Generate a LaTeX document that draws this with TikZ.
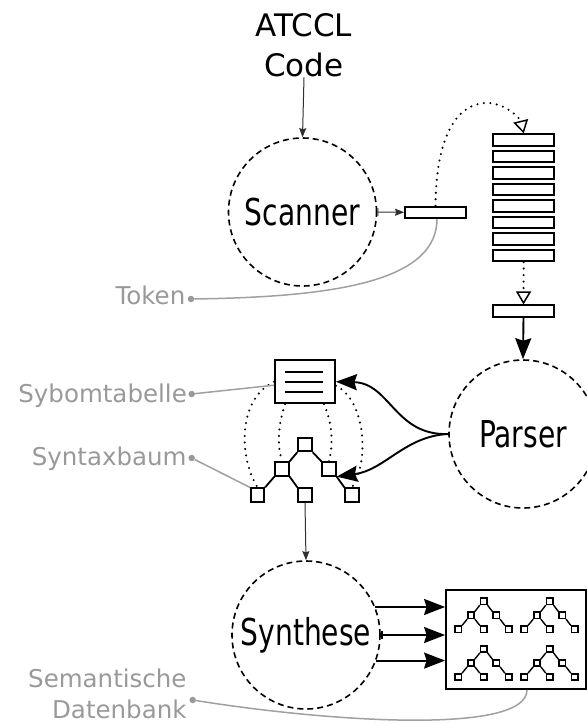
\documentclass[tikz,border=0pt]{standalone}
\usepackage{fontspec}
\setmainfont{DejaVu Sans}
\newfontfamily\condfont[FakeStretch=0.76]{DejaVu Sans}
\usetikzlibrary{arrows.meta}
\definecolor{labelgray}{HTML}{999999}
\definecolor{linegray}{HTML}{A0A0A0}
\definecolor{thinarrow}{HTML}{303030}
\tikzset{
  proc/.style={circle, draw, line width=1.6pt, dash pattern=on 6pt off 4pt,
    minimum size=148pt, inner sep=0pt, font=\condfont\fontsize{37}{44}\selectfont},
  tokbox/.style={draw, line width=1.8pt, minimum width=61pt, minimum height=11.3pt, inner sep=0pt},
  sq/.style={draw, line width=1.8pt, minimum size=13.5pt, inner sep=0pt},
  ssq/.style={draw, line width=1.4pt, minimum size=6.3pt, inner sep=0pt},
  tline/.style={line width=1.8pt},
  stline/.style={line width=1.4pt},
  lbl/.style={text=labelgray, font=\fontsize{24.5}{30.7}\selectfont, anchor=east, inner sep=0pt},
  gdot/.style={circle, fill=labelgray, minimum size=6.5pt, inner sep=0pt},
  gline/.style={draw=linegray, line width=1.5pt},
  dots/.style={line width=2.3pt, dash pattern=on 0pt off 6.5pt, line cap=round},
  bigarrow/.style={line width=1.9pt, -{Stealth[length=21pt,width=16pt,inset=2.5pt]}},
  smallarrow/.style={draw=thinarrow, line width=1pt, -{Stealth[length=9pt,width=7pt,inset=1pt]}},
  openarrow/.style={-{Triangle[open,length=13pt,width=15pt,line width=1.5pt]}},
}
\newcommand\minitree[3]{%
  \node[ssq] (#1-r) at (#2,#3) {};
  \node[ssq] (#1-a) at ({#2-12.7},{#3+14}) {};
  \node[ssq] (#1-b) at ({#2+12.5},{#3+14}) {};
  \node[ssq] (#1-c) at ({#2-25.5},{#3+28}) {};
  \node[ssq] (#1-d) at (#2,{#3+28}) {};
  \node[ssq] (#1-e) at ({#2+25},{#3+28}) {};
  \draw[stline] (#1-r.south west) -- (#1-a.north east)
                (#1-r.south east) -- (#1-b.north west)
                (#1-a.south west) -- (#1-c.north east)
                (#1-a.south east) -- (#1-d.north west)
                (#1-b.south east) -- (#1-e.north west);
}
\begin{document}
\begin{tikzpicture}[x=1pt,y=-1pt]
\useasboundingbox (0,0) rectangle (587,724);

% title
\node[align=center, inner sep=0pt, font=\fontsize{31}{40}\selectfont] (code) at (304,45.5) {ATCCL\\Code};

% process circles
\node[proc] (scanner) at (302.5,212) {Scanner};
\node[proc] (parser) at (523,434) {Parser};
\node[proc] (synth) at (306,635) {Synthese};

% token box and stack
\node[tokbox] (tok) at (435.5,212.3) {};
\foreach \i/\yy in {1/140,2/156.5,3/173,4/189.5,5/206,6/222.5,7/239,8/255.5}
  \node[tokbox] (s\i) at (523.7,\yy) {};
\node[tokbox] (q) at (523.5,311) {};

% symbol table
\node[draw, line width=1.8pt, minimum width=60pt, minimum height=43pt, inner sep=0pt] (symtab) at (305,381.7) {};
\draw[line width=1.6pt] (285,371.7) -- (323,371.7) (285,381.7) -- (323,381.7) (285,391.7) -- (323,391.7);

% syntax tree
\node[sq] (r) at (305,444.5) {};
\node[sq] (ml) at (282,469) {};
\node[sq] (mr) at (329,469) {};
\node[sq] (ll) at (257.5,495) {};
\node[sq] (lr) at (305,495) {};
\node[sq] (rr) at (352,495) {};
\draw[tline] (r.south west) -- (ml.north east)
             (r.south east) -- (mr.north west)
             (ml.south west) -- (ll.north east)
             (ml.south east) -- (lr.north west)
             (mr.south east) -- (rr.north west);

% forest box
\node[draw, line width=1.8pt, minimum width=140pt, minimum height=99pt, inner sep=0pt] (forest) at (516,639.5) {};
\minitree{fA}{483.7}{601.3}
\minitree{fB}{549.7}{601.3}
\minitree{fC}{483.7}{649}
\minitree{fD}{549.7}{649}

% dotted links table - tree
\draw[dots] (symtab.west) .. controls (236,400) and (240,460) .. (ll.north);
\draw[dots] ([xshift=11pt]symtab.south west) .. controls (278,425) and (277,445) .. (ml.north);
\draw[dots] ([xshift=-12pt]symtab.south east) .. controls (333,425) and (333,445) .. (mr.north);
\draw[dots] ([yshift=-4pt]symtab.east) .. controls (365,400) and (370,460) .. (rr.north);

% dotted token flow
\draw[dots, openarrow] (tok.north) .. controls (436,140) and (455,103) .. (487,103)
   .. controls (505,103) and (520,118) .. (s1.north);
\draw[dots, openarrow] (s8.south) -- (q.north);

% arrows
\draw[smallarrow] (code.south) -- (scanner.north);
\draw[draw=thinarrow, line width=1pt, {Bar[width=8pt]}-{Stealth[length=9pt,width=7pt,inset=1pt]}] (scanner.east) -- (tok.west);
\draw[bigarrow] (q.south) -- (parser.north);
\draw[bigarrow] (parser.west) .. controls (395,436) and (390,383) .. (symtab.east);
\draw[bigarrow] (parser.west) .. controls (405,436) and (385,470) .. (mr.south east);
\draw[smallarrow] (lr.south) -- (synth.north);
\draw[bigarrow] (synth.22) -- (synth.22 -| forest.west);
\draw[line width=1.9pt, {Bar[width=8pt]}-{Stealth[length=21pt,width=16pt,inset=2.5pt]}] (synth.east) -- (synth.east -| forest.west);
\draw[bigarrow] (synth.-20) -- (synth.-20 -| forest.west);

% gray labels
\node[lbl] (toklbl) at (185.5,295.7) {Token};
\node[gdot] (tokdot) at (191,299) {};
\draw[gline] (tokdot) .. controls (340,297) and (437,280) .. ([xshift=1.5pt]tok.south);

\node[lbl] (symlbl) at (187,395.4) {Sybomtabelle};
\node[gdot] (symdot) at (191.7,394) {};
\draw[gline] (symdot) -- ([yshift=-3.5pt]symtab.west);

\node[lbl] (synlbl) at (186.7,458.7) {Syntaxbaum};
\node[gdot] (syndot) at (191.7,458) {};
\draw[gline] (syndot) -- (ll.north west);

\node[lbl, align=right] (semlbl) at (186.7,694) {Semantische\\Datenbank};
\node[gdot] (semdot) at (192.7,700) {};
\draw[gline] (semdot) .. controls (330,722) and (527,735) .. ([xshift=11pt]forest.south);
\end{tikzpicture}
\end{document}
